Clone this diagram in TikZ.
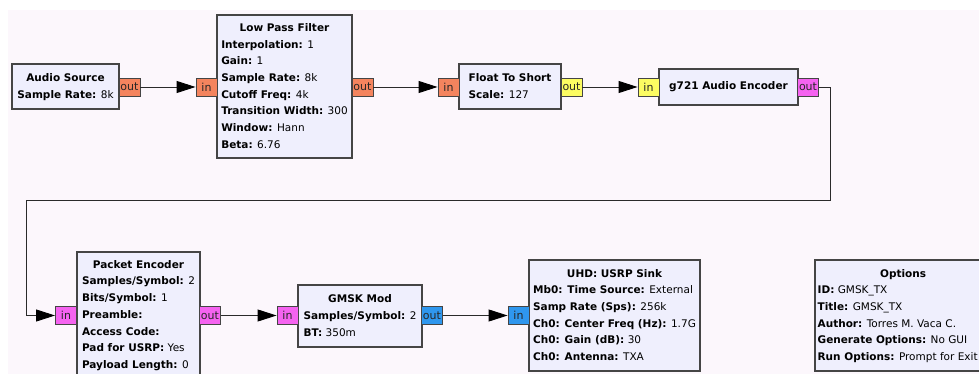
\documentclass[tikz,border=0pt]{standalone}
\usepackage{fontspec}
\setmainfont{DejaVu Sans}
\usetikzlibrary{arrows.meta}

\definecolor{canvas}{HTML}{FCF7FC}
\definecolor{blockfill}{HTML}{EFEFFD}
\definecolor{blockline}{HTML}{454545}
\definecolor{wire}{HTML}{2A2A2A}
\definecolor{pfloat}{HTML}{F4845E}
\definecolor{pshort}{HTML}{FCFC62}
\definecolor{pbyte}{HTML}{F563F0}
\definecolor{pcomplex}{HTML}{2F97EE}

% one "key: value" line of a block
\newcommand\kvline[2]{\textbf{#1:} #2}
% block body: centred bold title over left-aligned parameter lines
\newcommand\blocktext[2]{%
  \fontsize{10.5}{16.7}\selectfont
  \begin{tabular}{@{}l@{}}\multicolumn{1}{@{}c@{}}{\bfseries #1}\\ #2\end{tabular}}

\tikzset{
  block/.style={rectangle, draw=blockline, line width=1.1pt, fill=blockfill,
    inner sep=0pt, text=black},
  port/.style={rectangle, draw=blockline, line width=0.9pt, inner sep=0pt,
    minimum width=21pt, minimum height=18pt, text=black!85,
    font=\fontsize{11}{12}\selectfont},
  conn/.style={draw=wire, line width=0.9pt,
    -{Triangle[length=19pt,width=12pt,color=black,fill=black]}},
}

\begin{document}
\begin{tikzpicture}[x=1pt,y=-1pt]
\useasboundingbox (0,0) rectangle (979,374);
\clip (0,0) rectangle (979,374);
\fill[white] (0,0) rectangle (979,374);
\fill[canvas] (8,10) rectangle (979,374);

% ---- top row of blocks
\node[block, minimum width=107pt, minimum height=45pt] (asrc) at (65.5,86.5)
  {\blocktext{Audio Source}{\kvline{Sample Rate}{8k}}};
\node[block, minimum width=135pt, minimum height=143pt] (lpf) at (284.5,86.5)
  {\blocktext{Low Pass Filter}{%
    \kvline{Interpolation}{1}\\
    \kvline{Gain}{1}\\
    \kvline{Sample Rate}{8k}\\
    \kvline{Cutoff Freq}{4k}\\
    \kvline{Transition Width}{300}\\
    \kvline{Window}{Hann}\\
    \kvline{Beta}{6.76}}};
\node[block, minimum width=102pt, minimum height=45pt] (fts) at (510,86.5)
  {\blocktext{Float To Short}{\kvline{Scale}{127}}};
\node[block, minimum width=139pt, minimum height=36pt,
      font=\fontsize{10.5}{16.7}\selectfont\bfseries] (g721) at (728.5,87)
  {g721 Audio Encoder};

% ---- bottom row of blocks
\node[block, minimum width=123pt, minimum height=126pt] (penc) at (138.5,315)
  {\blocktext{Packet Encoder}{%
    \kvline{Samples/Symbol}{2}\\
    \kvline{Bits/Symbol}{1}\\
    \textbf{Preamble:}\\
    \textbf{Access Code:}\\
    \kvline{Pad for USRP}{Yes}\\
    \kvline{Payload Length}{0}}};
\node[block, minimum width=124pt, minimum height=62pt] (gmsk) at (360,316)
  {\blocktext{GMSK Mod}{%
    \kvline{Samples/Symbol}{2}\\
    \kvline{BT}{350m}}};
\node[block, minimum width=171pt, minimum height=111pt] (usrp) at (614.5,315.5)
  {\blocktext{UHD: USRP Sink}{%
    \kvline{Mb0: Time Source}{External}\\
    \kvline{Samp Rate (Sps)}{256k}\\
    \kvline{Ch0: Center Freq (Hz)}{1.7G}\\
    \kvline{Ch0: Gain (dB)}{30}\\
    \kvline{Ch0: Antenna}{TXA}}};
\node[block, minimum width=176pt, minimum height=111pt] (opts) at (903,315.5) {};
\node[anchor=west, inner sep=0pt] (optstext) at ([xshift=3pt]opts.west)
  {\blocktext{\hspace*{11pt}Options}{%
    \kvline{ID}{GMSK\_TX}\\
    \kvline{Title}{GMSK\_TX}\\
    \kvline{Author}{Torres M. Vaca C.}\\
    \kvline{Generate Options}{No GUI}\\
    \kvline{Run Options}{Prompt for Exit}}};

% ---- ports
\node[port, fill=pfloat]   (asout)   at (129.5,87)   {out};
\node[port, fill=pfloat]   (lpfin)   at (206.5,87)   {in};
\node[port, fill=pfloat]   (lpfout)  at (362.5,87)   {out};
\node[port, fill=pfloat]   (ftsin)   at (448.5,87)   {in};
\node[port, fill=pshort]   (ftsout)  at (571.5,87)   {out};
\node[port, fill=pshort]   (g721in)  at (648.5,87)   {in};
\node[port, fill=pbyte]    (g721out) at (808,87)     {out};
\node[port, fill=pbyte]    (pencin)  at (66,315.5)   {in};
\node[port, fill=pbyte]    (pencout) at (210,315.5)  {out};
\node[port, fill=pbyte]    (gmskin)  at (287.5,315.5) {in};
\node[port, fill=pcomplex] (gmskout) at (432,315.5)  {out};
\node[port, fill=pcomplex] (usrpin)  at (518.5,315.5) {in};

% ---- connections
\draw[conn] (asout.east)   -- (lpfin.west);
\draw[conn] (lpfout.east)  -- (ftsin.west);
\draw[conn] (ftsout.east)  -- (g721in.west);
\coordinate (turnright) at (830,200);
\coordinate (turnleft)  at (26,200);
\draw[conn] (g721out.east) -| (turnright) -- (turnleft) |- (pencin.west);
\draw[conn] (pencout.east) -- (gmskin.west);
\draw[conn] (gmskout.east) -- (usrpin.west);
\end{tikzpicture}
\end{document}
